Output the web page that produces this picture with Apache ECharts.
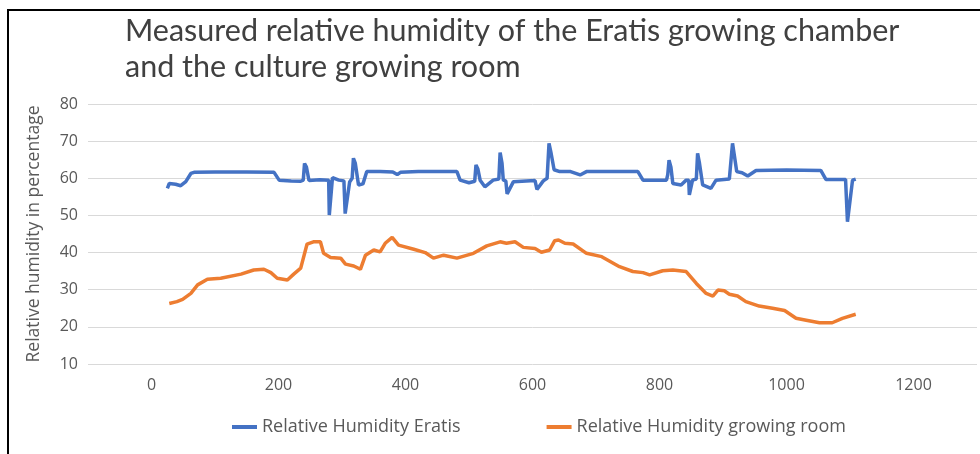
<!DOCTYPE html>
<html>
<head>
<meta charset="utf-8">
<script src="https://cdn.jsdelivr.net/npm/echarts@6/dist/echarts.min.js"></script>
<style>
html,body{margin:0;padding:0;background:#fff;}
#chart{width:980px;height:454px;}
</style>
</head>
<body>
<div id="chart"></div>
<script>
// ---- data ----
var titleText = "Measured relative humidity of the Eratis growing chamber\nand the culture growing room";
var yAxisName = "Relative humidity in percentage";
var seriesNames = ["Relative Humidity Eratis", "Relative Humidity growing room"];
var xTickLabels = [0, 200, 400, 600, 800, 1000, 1200];

var eratisX = [25,28,38,46,54,62,67,100,150,193,201,220,235,239,241,244,248,265,279,280,283,285,295,303,305,308,312,316,318,321,326,333,339,360,380,387,392,420,481,486,500,502,509,511,514,517.5,525,538,547,549,552,554,558,560,562,570,590,604,607,610,617,623,626,629,634,643,660,675,685,766,774,811,813,815,818,821,834,842,846,847,849,852,858,860,863,868,881,889,910,913,915,918,921.6,930,939,952,1000,1054,1062,1093,1096,1098,1104,1109];
var eratisY = [57.3,58.6,58.4,58,59.1,61.3,61.6,61.7,61.7,61.6,59.5,59.3,59.2,59.5,64,63,59.4,59.6,59.5,50.1,50.1,60.2,59.5,59.3,50.5,51,59,60,65.4,64,58.2,58.5,61.8,61.8,61.7,61,61.6,61.8,61.8,59.5,58.8,58.5,59.2,63.6,62.5,59.5,57.7,59.5,59.8,66.9,64,59.5,59.3,55.8,56,59.1,59.3,59.4,57,57,59.3,60,69.4,67,62.3,61.8,61.8,60.9,61.8,61.8,59.5,59.5,61,64.9,63,58.6,58.2,59.5,59.5,55.5,55.5,59.5,59.8,66.7,64,58.2,57.3,59.5,59.8,60,69.4,66,61.8,61.5,60.6,62.1,62.2,62.1,59.7,59.7,48.3,48.5,59.5,59.8];

var roomX = [28,40,49,62,72.6,88,109,141,161,177,188,198,214,224,235,245,255,266,271,282,298,305.5,318.5,329,337,350,360,368,379,389,413,431,444,460,481,507,528,549,559,572.5,585.5,604,614,627,635,641,651,664,685,709,737,758,774,784.5,805,821,842,845,858,873.5,884,892,902,910,923,936,957,978,997,1015,1031,1052,1072,1088,1109];
var roomY = [26.3,26.8,27.4,29.0,31.3,32.8,33.1,34.2,35.3,35.5,34.6,33.1,32.6,34.2,35.8,42.3,42.9,42.9,39.8,38.7,38.5,36.9,36.4,35.5,39.3,40.7,40.2,42.5,44.1,42.0,40.9,40.0,38.5,39.3,38.5,39.8,41.8,42.9,42.5,42.9,41.4,41.1,40.1,40.7,43.2,43.4,42.5,42.3,39.8,38.9,36.2,34.9,34.6,34.0,35.1,35.3,34.9,35.3,31.7,29.0,28.3,29.9,29.7,28.8,28.3,26.8,25.6,25.0,24.4,22.3,21.8,21.1,21.1,22.3,23.4];

function zip(xs, ys){ var out=[]; for(var i=0;i<xs.length;i++){ out.push([xs[i], ys[i]]); } return out; }

var chart = echarts.init(document.getElementById('chart'), null, {renderer:'canvas'});
var labelColor = '#595959';
var font = 'Open Sans';

var option = {
  backgroundColor: '#ffffff',
  animation: false,
  title: {
    text: titleText,
    left: 120,
    top: 8,
    textStyle: {
      fontFamily: 'Lato',
      fontSize: 30.5,
      fontWeight: 'normal',
      color: '#404040',
      lineHeight: 36
    }
  },
  legend: {
    left: 227,
    top: 413,
    itemWidth: 25,
    itemHeight: 4,
    itemGap: 86,
    icon: 'rect',
    textStyle: { fontFamily: font, fontSize: 18, color: labelColor },
    data: [
      { name: seriesNames[0], icon: 'rect' },
      { name: seriesNames[1], icon: 'rect' }
    ]
  },
  grid: { left: 88, right: 2, top: 104, bottom: 90 },
  xAxis: {
    type: 'value',
    min: -100,
    max: 1300,
    interval: 100,
    axisLine: { show: false },
    axisTick: { show: false },
    splitLine: { show: false },
    axisLabel: {
      margin: 13,
      fontFamily: font,
      fontSize: 16,
      color: labelColor,
      formatter: function(v){ return xTickLabels.indexOf(v) >= 0 ? String(v) : ''; }
    }
  },
  yAxis: {
    type: 'value',
    min: 10,
    max: 80,
    interval: 10,
    name: yAxisName,
    nameLocation: 'middle',
    nameGap: 45,
    nameTextStyle: { fontFamily: font, fontSize: 17.5, color: labelColor },
    axisLine: { show: false },
    axisTick: { show: false },
    axisLabel: { margin: 10, fontFamily: font, fontSize: 16, color: labelColor },
    splitLine: { lineStyle: { color: '#d9d9d9', width: 1 } }
  },
  series: [
    {
      name: seriesNames[0],
      type: 'line',
      data: zip(eratisX, eratisY),
      showSymbol: false,
      symbol: 'none',
      lineStyle: { color: '#4472C4', width: 3.5 },
      itemStyle: { color: '#4472C4' }
    },
    {
      name: seriesNames[1],
      type: 'line',
      data: zip(roomX, roomY),
      showSymbol: false,
      symbol: 'none',
      lineStyle: { color: '#ED7D31', width: 3.5 },
      itemStyle: { color: '#ED7D31' }
    }
  ],
  graphic: [
    {
      type: 'polyline',
      silent: true,
      z: 100,
      shape: { points: [[8, 460], [8, 10], [990, 10]] },
      style: { stroke: '#000000', lineWidth: 2, fill: null }
    }
  ]
};
chart.setOption(option);
</script>
</body>
</html>
